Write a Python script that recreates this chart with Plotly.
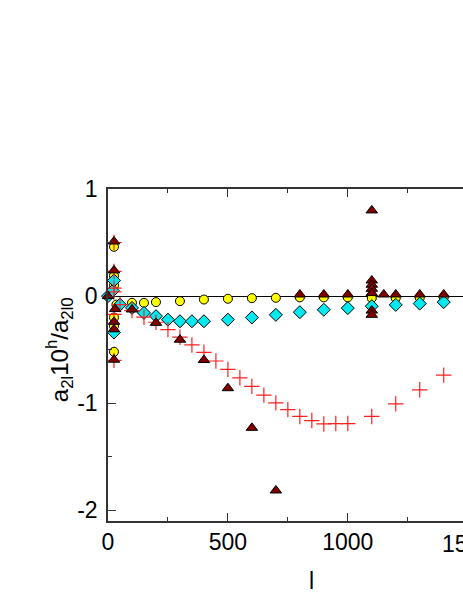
import plotly.graph_objects as go

# ---- data ----
yellow_l = [25, 25, 25, 25, 25, 25, 35, 100, 150, 200, 300, 400, 500, 600, 700, 800, 900, 1000, 1100, 1200, 1300, 1400]
yellow_v = [0.46, 0.19, 0.10, -0.20, -0.28, -0.52, -0.08, -0.063, -0.063, -0.056, -0.047, -0.032, -0.025, -0.019, -0.016, -0.012, -0.012, -0.012, -0.019, -0.019, -0.015, -0.012]

cyan_l = [0, 20, 25, 25, 50, 100, 150, 200, 250, 300, 350, 400, 500, 600, 700, 800, 900, 1000, 1100, 1200, 1300, 1400]
cyan_v = [0.0, 0.05, 0.146, -0.34, -0.08, -0.11, -0.157, -0.187, -0.22, -0.235, -0.235, -0.235, -0.22, -0.2, -0.175, -0.15, -0.128, -0.112, -0.094, -0.082, -0.07, -0.056]

cross_l = [25, 25, 25, 25, 25, 25, 50, 100, 150, 200, 250, 300, 350, 400, 450, 500, 550, 600, 650, 700, 750, 800, 850, 900, 950, 1000, 1100, 1200, 1300, 1400]
cross_v = [0.5, 0.23, 0.075, 0.04, -0.17, -0.6, -0.08, -0.135, -0.197, -0.244, -0.313, -0.384, -0.456, -0.525, -0.606, -0.684, -0.763, -0.843, -0.925, -0.997, -1.06, -1.124, -1.162, -1.194, -1.19, -1.19, -1.124, -1.006, -0.875, -0.738]

tri_l = [0, 25, 25, 30, 25, 25, 25, 100, 200, 300, 400, 500, 600, 700, 800, 900, 1000, 1100, 1100, 1100, 1100, 1100, 1150, 1100, 1100, 1200, 1300, 1400]
tri_v = [0.0, 0.51, 0.24, -0.12, -0.24, -0.31, -0.594, -0.125, -0.25, -0.407, -0.597, -0.86, -1.23, -1.815, 0.015, 0.015, 0.015, 0.80, 0.146, 0.106, 0.068, 0.028, 0.015, -0.135, -0.175, 0.015, 0.015, 0.015]

x_ticks = [0, 500, 1000]
y_ticks = [-2, -1, 0, 1]

FONT = "Arial, Liberation Sans, sans-serif"

fig = go.Figure()
fig.add_trace(go.Scatter(x=yellow_l, y=yellow_v, mode="markers", cliponaxis=False,
                         marker=dict(symbol="circle", size=9, color="#FFFF00",
                                     line=dict(color="black", width=1))))
fig.add_trace(go.Scatter(x=cyan_l, y=cyan_v, mode="markers", cliponaxis=False,
                         marker=dict(symbol="diamond", size=10, color="#00E8F0",
                                     line=dict(color="black", width=1))))
fig.add_trace(go.Scatter(x=cross_l, y=cross_v, mode="markers", cliponaxis=False,
                         marker=dict(symbol="cross-thin", size=11, color="#FF2020",
                                     line=dict(color="#FF2020", width=1.2))))
fig.add_trace(go.Scatter(x=tri_l, y=tri_v, mode="markers", cliponaxis=False,
                         marker=dict(symbol="triangle-up", size=10, color="#800000",
                                     line=dict(color="black", width=1))))

# body margin is removed by the post script: figure occupies the whole window
W, H = 463, 599
ml, mt = 107.7, 189.3
plot_bottom = 521.0
mb = H - plot_bottom
px_per_l = 0.24
xmax = (W - ml) / px_per_l
plot_h = plot_bottom - mt

fig.update_layout(
    width=W, height=H,
    margin=dict(l=ml, r=0, t=mt, b=mb, pad=0),
    paper_bgcolor="white", plot_bgcolor="white",
    showlegend=False,
    font=dict(family=FONT, size=23, color="black"),
    xaxis=dict(range=[0, xmax], tickvals=x_ticks, ticktext=[str(v) for v in x_ticks],
               ticks="inside", ticklen=8, tickwidth=1.2, tickcolor="#333",
               minor=dict(tickvals=[250, 750, 1250], ticks="inside", ticklen=4, tickwidth=1.2, tickcolor="#333"),
               showline=True, linecolor="#333", linewidth=1.5, mirror="ticks",
               showgrid=False, zeroline=False, ticklabelstandoff=0, automargin=False,
               tickfont=dict(family=FONT, size=23, color="black")),
    yaxis=dict(range=[-2.1, 1.0], tickvals=y_ticks, ticktext=[str(v) for v in y_ticks],
               ticks="inside", ticklen=8, tickwidth=1.2, tickcolor="#333",
               minor=dict(tickvals=[-1.5, -0.5, 0.5], ticks="inside", ticklen=4, tickwidth=1.2, tickcolor="#333"),
               showline=True, linecolor="#333", linewidth=1.5, mirror=False,
               showgrid=False, zeroline=True, zerolinecolor="black", zerolinewidth=1.2,
               ticklabelstandoff=4, automargin=False,
               tickfont=dict(family=FONT, size=23, color="black")),
)

# cut-off tick label at 1500 beyond the right edge
fig.add_annotation(text="1500", xref="paper", yref="paper",
                   x=(1500 * px_per_l) / (W - ml), y=(plot_bottom - 529) / plot_h,
                   xanchor="center", yanchor="top",
                   showarrow=False, font=dict(family=FONT, size=23, color="black"))
# x axis title
fig.add_annotation(text="l", xref="paper", yref="paper", x=(311.7 - ml) / (W - ml),
                   y=(plot_bottom - 581) / plot_h, xanchor="center", yanchor="middle",
                   showarrow=False, font=dict(family=FONT, size=23, color="black"))
# y axis title
fig.add_annotation(text="a<sub>2l</sub>10<sup>h</sup>/a<sub>2l0</sub>", xref="paper", yref="paper",
                   x=(59 - ml) / (W - ml), y=(plot_bottom - 350) / plot_h, textangle=-90,
                   xanchor="center", yanchor="middle",
                   showarrow=False, font=dict(family=FONT, size=24, color="black"))

fig.write_html(
    "out.html",
    config={"displayModeBar": False},
    post_script="document.body.style.margin='0';document.documentElement.style.overflow='hidden';document.body.style.overflow='hidden';",
)
